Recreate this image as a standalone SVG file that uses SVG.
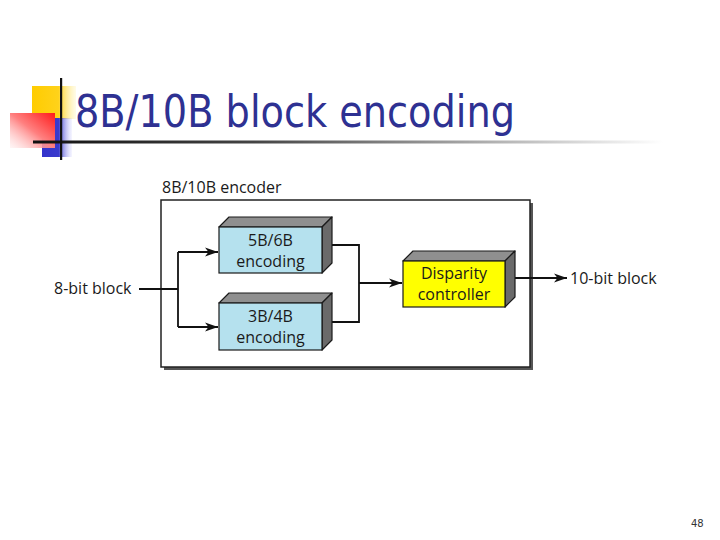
<svg xmlns="http://www.w3.org/2000/svg" width="720" height="540" viewBox="0 0 720 540">
<style>
.lbl{font-family:"Open Sans","Liberation Sans",sans-serif;font-size:16px;fill:#1a1a1a}
.ctr{text-anchor:middle}
.front{stroke:#1a1a1a;stroke-width:1.2}
.top{fill:#8f8f8f;stroke:#1a1a1a;stroke-width:1.2;stroke-linejoin:round}
.side{fill:#6a6a6a;stroke:#1a1a1a;stroke-width:1.2;stroke-linejoin:round}
.conn{fill:none;stroke:#111;stroke-width:1.8}
</style>
<defs>
<marker id="ah" markerUnits="userSpaceOnUse" markerWidth="14" markerHeight="10" refX="13" refY="5" orient="auto">
<path d="M0,0.5 L13,5 L0,9.5 L3.5,5 z" fill="#111"/>
</marker>
<linearGradient id="yel" x1="0" x2="1" y1="0" y2="0">
<stop offset="0" stop-color="#ffcc00"/><stop offset="0.6" stop-color="#ffd21a"/><stop offset="1" stop-color="#fff2b0" stop-opacity="0.3"/>
</linearGradient>
<linearGradient id="blu" x1="0" x2="1" y1="0" y2="0">
<stop offset="0" stop-color="#3333cc"/><stop offset="0.55" stop-color="#3a3acc"/><stop offset="1" stop-color="#ccccff" stop-opacity="0.2"/>
</linearGradient>
<linearGradient id="red" x1="1" x2="0" y1="0" y2="1">
<stop offset="0" stop-color="#ff1a1a"/><stop offset="0.5" stop-color="#ff8080"/><stop offset="1" stop-color="#ffe8e8" stop-opacity="0.4"/>
</linearGradient>
<linearGradient id="rule" x1="0" x2="1" y1="0" y2="0">
<stop offset="0" stop-color="#111"/><stop offset="0.35" stop-color="#444"/><stop offset="1" stop-color="#fff"/>
</linearGradient>
</defs>

<g id="title-deco">
<rect x="32" y="86" width="44" height="33" fill="url(#yel)"/>
<rect x="42" y="118" width="30" height="39" fill="url(#blu)"/>
<rect x="10" y="113" width="45" height="35" fill="url(#red)"/>
<rect x="33" y="140.5" width="630" height="3" fill="url(#rule)"/>
<rect x="60" y="78" width="2.2" height="82" fill="#111"/>
</g>
<text id="title" x="75" y="127" font-family="DejaVu Sans,Verdana,sans-serif" font-size="44" fill="#2e3192" textLength="440" lengthAdjust="spacingAndGlyphs">8B/10B block encoding</text>

<g id="encoder-frame">
<rect x="164" y="203" width="369" height="167" fill="#555"/>
<rect x="161" y="200" width="369" height="167" fill="#fff" stroke="#222" stroke-width="1.5"/>
<text class="lbl" x="162" y="193">8B/10B encoder</text>
</g>

<g id="connectors">
<path class="conn" d="M139,289 H178"/>
<path class="conn" d="M178,252 V327"/>
<path class="conn" d="M178,252 H218" marker-end="url(#ah)"/>
<path class="conn" d="M178,327 H218" marker-end="url(#ah)"/>
<path class="conn" d="M327,245 H359 V322 H327"/>
<path class="conn" d="M359,283 H402" marker-end="url(#ah)"/>
<path class="conn" d="M510,278 H567" marker-end="url(#ah)"/>
</g>

<g id="enc56">
<polygon class="top" points="219,227 229,217 332,217 322,227"/>
<polygon class="side" points="322,227 332,217 332,263 322,273"/>
<rect class="front" x="219" y="227" width="103" height="46" fill="#b5e1ee"/>
<text class="lbl ctr" x="270.5" y="245.5">5B/6B<tspan x="270.5" dy="21">encoding</tspan></text>
</g>

<g id="enc34">
<polygon class="top" points="219,303 229,293 332,293 322,303"/>
<polygon class="side" points="322,303 332,293 332,340 322,350"/>
<rect class="front" x="219" y="303" width="103" height="47" fill="#b5e1ee"/>
<text class="lbl ctr" x="270.5" y="321.5">3B/4B<tspan x="270.5" dy="21">encoding</tspan></text>
</g>

<g id="disparity">
<polygon class="top" points="403,261 413,251 515,251 505,261"/>
<polygon class="side" points="505,261 515,251 515,297 505,307"/>
<rect class="front" x="403" y="261" width="102" height="46" fill="#ffff00"/>
<text class="lbl ctr" x="454" y="279">Disparity<tspan x="454" dy="21">controller</tspan></text>
</g>

<g id="input">
<text class="lbl" x="54" y="294">8-bit block</text>
</g>
<g id="output">
<text class="lbl" x="570" y="284">10-bit block</text>
</g>

<text id="page" x="691" y="527" font-family="DejaVu Sans,Verdana,sans-serif" font-size="10" fill="#333">48</text>
</svg>
